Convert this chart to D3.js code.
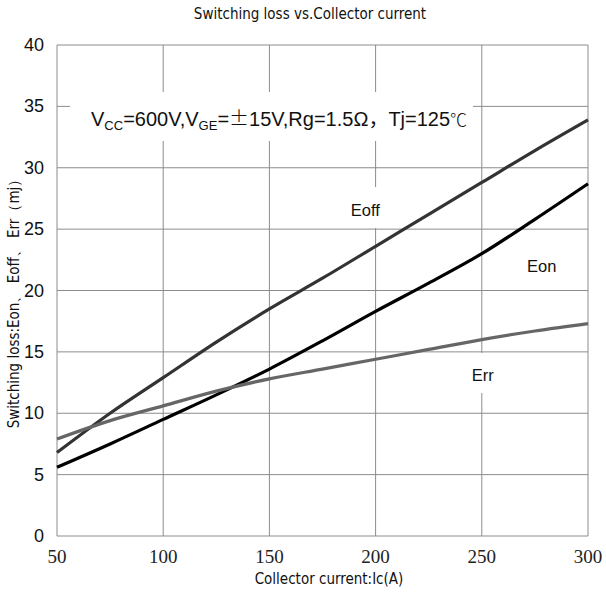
<!DOCTYPE html>
<html>
<head>
<meta charset="utf-8">
<script src="https://cdn.jsdelivr.net/npm/d3@7"></script>
<style>
  body { margin: 0; background: #fff; }
  svg { display: block; }
</style>
</head>
<body>
<svg id="chart" width="606" height="596"></svg>
<script>
// switching loss curves
var current = [50, 75, 100, 125, 150, 175, 200, 225, 250, 275, 300];
var eoff = [6.8, 10.0, 12.9, 15.8, 18.5, 21.0, 23.6, 26.2, 28.8, 31.4, 33.9];
var eon  = [5.6, 7.5, 9.5, 11.5, 13.6, 15.9, 18.3, 20.6, 23.0, 25.8, 28.7];
var err  = [7.9, 9.4, 10.6, 11.8, 12.8, 13.6, 14.4, 15.2, 16.0, 16.7, 17.3];

var xTicks = [50, 100, 150, 200, 250, 300];
var yTicks = [0, 5, 10, 15, 20, 25, 30, 35, 40];

var svg = d3.select('#chart');
var plotLeft = 57, plotRight = 588, plotTop = 45, plotBottom = 536;

var x = d3.scaleLinear().domain([50, 300]).range([plotLeft, plotRight]);
var y = d3.scaleLinear().domain([0, 40]).range([plotBottom, plotTop]);

var narrow = '"Liberation Sans Narrow", "DejaVu Sans Condensed", sans-serif';

// grid
svg.append('g')
  .selectAll('line')
  .data(xTicks)
  .join('line')
  .attr('x1', d => x(d)).attr('x2', d => x(d))
  .attr('y1', plotTop).attr('y2', plotBottom)
  .attr('stroke', '#8c8c8c').attr('stroke-width', 1);

svg.append('g')
  .selectAll('line')
  .data(yTicks)
  .join('line')
  .attr('x1', plotLeft).attr('x2', plotRight)
  .attr('y1', d => y(d)).attr('y2', d => y(d))
  .attr('stroke', '#8c8c8c').attr('stroke-width', 1);

// white boxes behind the labels (they hide the grid in the original)
var boxes = [
  [70, 92, 403, 49],
  [345, 187, 50, 41],
  [463, 353, 40, 40]
];
svg.append('g')
  .selectAll('rect')
  .data(boxes)
  .join('rect')
  .attr('x', d => d[0]).attr('y', d => d[1])
  .attr('width', d => d[2]).attr('height', d => d[3])
  .attr('fill', '#fff');

// tick labels
svg.append('g')
  .selectAll('text')
  .data(yTicks)
  .join('text')
  .attr('x', 44)
  .attr('y', d => y(d) + 6)
  .attr('text-anchor', 'end')
  .attr('font-family', '"Liberation Sans", Arial, sans-serif')
  .attr('font-size', 18)
  .attr('fill', '#111')
  .text(d => d);

svg.append('g')
  .selectAll('text')
  .data(xTicks)
  .join('text')
  .attr('x', d => x(d))
  .attr('y', 563)
  .attr('text-anchor', 'middle')
  .attr('font-family', '"Liberation Serif", "Times New Roman", serif')
  .attr('font-size', 19)
  .attr('fill', '#222')
  .text(d => d);

// lines
var line = d3.line()
  .x(d => x(d[0]))
  .y(d => y(d[1]))
  .curve(d3.curveCatmullRom.alpha(0.5));

var series = [
  { name: 'Eoff', values: eoff, color: '#333333' },
  { name: 'Eon', values: eon, color: '#000000' },
  { name: 'Err', values: err, color: '#666666' }
];

svg.append('g')
  .selectAll('path')
  .data(series)
  .join('path')
  .attr('d', s => line(current.map((c, i) => [c, s.values[i]])))
  .attr('fill', 'none')
  .attr('stroke', s => s.color)
  .attr('stroke-width', 3.2);

// series labels
var labels = [
  { text: 'Eoff', x: 193, y: 26.1 },
  { text: 'Eon', x: 276, y: 21.5 },
  { text: 'Err', x: 250, y: 12.6 }
];
svg.append('g')
  .selectAll('text')
  .data(labels)
  .join('text')
  .attr('x', d => x(d.x) - 10)
  .attr('y', d => y(d.y))
  .attr('font-family', '"Liberation Sans", Arial, sans-serif')
  .attr('font-size', 16.5)
  .attr('fill', '#111')
  .text(d => d.text);

// condition note
var note = svg.append('text')
  .attr('x', 91)
  .attr('y', 126)
  .attr('font-family', '"Liberation Sans", Arial, sans-serif')
  .attr('font-size', 20)
  .attr('fill', '#111');
note.append('tspan').text('V');
note.append('tspan').attr('font-size', 13).attr('dy', 4).text('CC');
note.append('tspan').attr('dy', -4).text('=600V,V');
note.append('tspan').attr('font-size', 13).attr('dy', 4).text('GE');
note.append('tspan').attr('dy', -4).text('=');
note.append('tspan').attr('font-family', '"Noto Sans CJK JP", sans-serif').attr('font-weight', 300).text('±');
note.append('tspan').text('15V,Rg=1.5Ω');
note.append('tspan').attr('font-family', '"Noto Sans CJK JP", sans-serif').text('，');
note.append('tspan').text('Tj=125');
note.append('tspan').attr('font-family', '"Noto Sans CJK JP", sans-serif').attr('font-weight', 300).attr('font-size', 17).text('℃');

// titles
svg.append('text')
  .attr('x', 310).attr('y', 19)
  .attr('text-anchor', 'middle')
  .attr('font-family', narrow)
  .attr('font-size', 15)
  .attr('fill', '#111')
  .text('Switching loss vs.Collector current');

svg.append('text')
  .attr('x', 329).attr('y', 584)
  .attr('text-anchor', 'middle')
  .attr('font-family', narrow)
  .attr('font-size', 15)
  .attr('fill', '#111')
  .text('Collector current:Ic(A)');

svg.append('text')
  .attr('transform', 'translate(19,300) rotate(-90)')
  .attr('text-anchor', 'middle')
  .attr('font-family', narrow)
  .attr('font-size', 15)
  .attr('fill', '#111')
  .text('Switching loss:Eon、 Eoff、 Err（mj）');
</script>
</body>
</html>
